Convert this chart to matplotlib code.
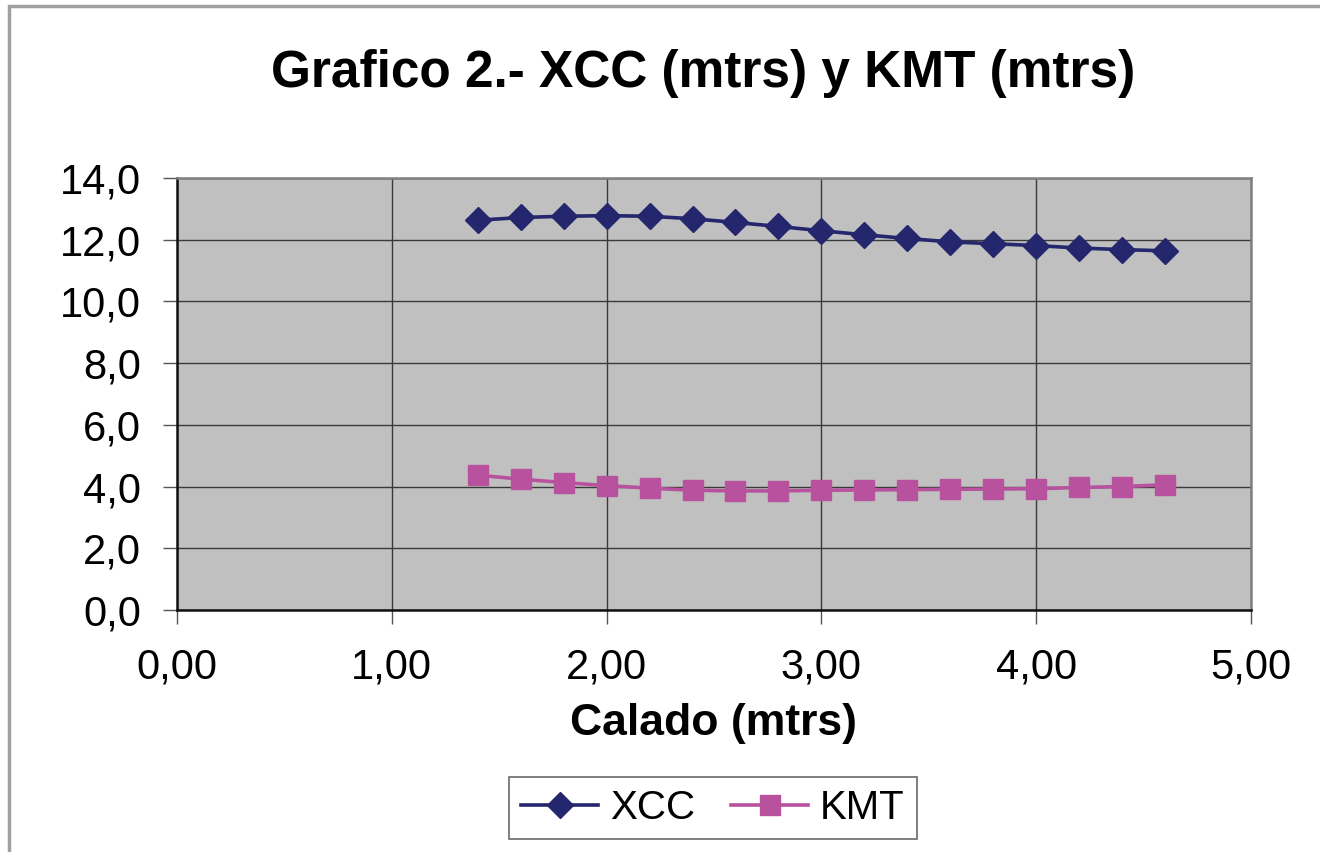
import matplotlib.pyplot as plt
from matplotlib.ticker import FuncFormatter, MultipleLocator
from matplotlib.patches import Rectangle

# draft (m) vs transverse centre XCC and metacentre height KMT
calado = [1.4, 1.6, 1.8, 2.0, 2.2, 2.4, 2.6, 2.8, 3.0,
          3.2, 3.4, 3.6, 3.8, 4.0, 4.2, 4.4, 4.6]
xcc = [12.63, 12.72, 12.76, 12.78, 12.76, 12.68, 12.56, 12.43, 12.29,
       12.16, 12.04, 11.93, 11.87, 11.81, 11.73, 11.68, 11.64]
kmt = [4.37, 4.24, 4.13, 4.03, 3.95, 3.88, 3.86, 3.86, 3.88,
       3.89, 3.90, 3.91, 3.92, 3.93, 3.97, 4.00, 4.06]

plt.rcParams['font.family'] = ['Liberation Sans', 'DejaVu Sans']

fig = plt.figure(figsize=(13.2, 8.52), dpi=100)
ax = fig.add_axes([177 / 1320, 1 - 610 / 852, (1251 - 177) / 1320, (610 - 178) / 852])

# outer chart frame
fig.patches.append(Rectangle((9 / 1320, -0.1), 1.2, 1 - 6 / 852 + 0.1,
                             transform=fig.transFigure, fill=False,
                             edgecolor='#a0a0a0', linewidth=2.5))

ax.set_facecolor('#c0c0c0')
ax.plot(calado, xcc, color='#24266e', linewidth=2.6, marker='D',
        markersize=13.5, label='XCC')
ax.plot(calado, kmt, color='#b8529e', linewidth=2.6, marker='s',
        markersize=15, label='KMT')

ax.set_xlim(0, 5)
ax.set_ylim(0, 14)
ax.xaxis.set_major_locator(MultipleLocator(1))
ax.yaxis.set_major_locator(MultipleLocator(2))
ax.xaxis.set_major_formatter(FuncFormatter(lambda v, p: f'{v:.2f}'.replace('.', ',')))
ax.yaxis.set_major_formatter(FuncFormatter(lambda v, p: f'{v:.1f}'.replace('.', ',')))
ax.grid(True, color='#3a3a3a', linewidth=1.0)
ax.set_axisbelow(True)
ax.tick_params(axis='both', direction='out', length=10, width=1.0,
               color='#555555', labelsize=30)
ax.tick_params(axis='y', pad=16)
ax.tick_params(axis='x', pad=17)

for side in ('left', 'bottom'):
    ax.spines[side].set_color('#111111')
    ax.spines[side].set_linewidth(1.8)
for side in ('top', 'right'):
    ax.spines[side].set_color('#808080')
    ax.spines[side].set_linewidth(1.8)

ax.set_xlabel('Calado (mtrs)', fontsize=32, fontweight='bold', labelpad=11)
fig.text(703 / 1320, 1 - 73 / 852, 'Grafico 2.- XCC (mtrs) y KMT (mtrs)',
         fontsize=37, fontweight='bold', ha='center', va='center')

leg = fig.legend(loc='center', bbox_to_anchor=(713 / 1320, 1 - 808 / 852),
                 ncol=2, fontsize=29, frameon=True, fancybox=False,
                 handlelength=1.9, handletextpad=0.3, columnspacing=0.9,
                 borderpad=0.3, markerscale=0.95)
leg.get_frame().set_edgecolor('#444444')
leg.get_frame().set_linewidth(1.2)

fig.savefig('out.png', dpi=100)
